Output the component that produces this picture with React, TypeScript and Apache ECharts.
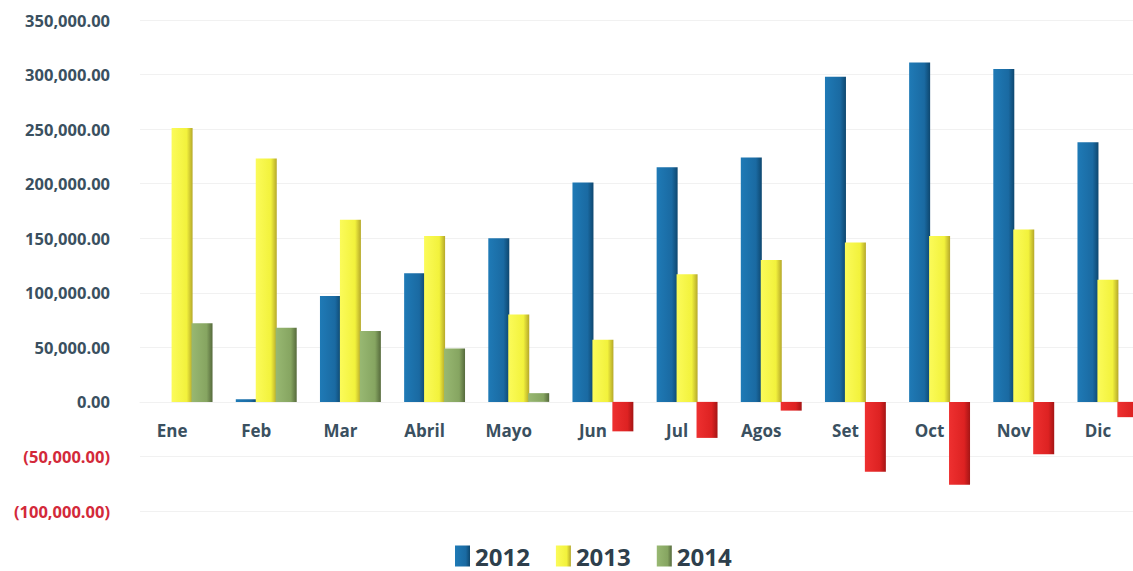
import React, { useEffect, useRef } from "react";
import * as echarts from "echarts";

const categories = ["Ene", "Feb", "Mar", "Abril", "Mayo", "Jun", "Jul", "Agos", "Set", "Oct", "Nov", "Dic"];
const series2012 = [0, 2500, 97000, 118000, 150000, 201000, 215000, 224000, 298000, 311000, 305000, 238000];
const series2013 = [251000, 223000, 167000, 152000, 80000, 57000, 117000, 130000, 146000, 152000, 158000, 112000];
const series2014 = [72000, 68000, 65000, 49000, 8000, -27000, -33000, -8000, -64000, -76000, -48000, -14000];
const yTicks = { min: -100000, max: 350000, interval: 50000 };
const seriesNames = ["2012", "2013", "2014"];

function grad(c1: string, c2: string, c3: string) {
  return new echarts.graphic.LinearGradient(0, 0, 1, 0, [
    { offset: 0, color: c1 },
    { offset: 0.72, color: c2 },
    { offset: 1, color: c3 },
  ]);
}

function fmt(v: number) {
  return Math.abs(v).toLocaleString("en-US", { minimumFractionDigits: 2, maximumFractionDigits: 2 });
}

const GRID_TOP = 20;
const GRID_BOTTOM = 60;
const CHART_H = 571;

export default function App() {
  const ref = useRef<HTMLDivElement>(null);
  useEffect(() => {
    if (!ref.current) return;
    const chart = echarts.init(ref.current, undefined, { renderer: "svg" });
    const blue = grad("#1f7ab6", "#1a6aa2", "#0e476f");
    const yellow = grad("#fbfb5a", "#f2f23c", "#b5a82a");
    const green = grad("#98b872", "#86a561", "#566a3c");
    const red = grad("#ee3030", "#dd2222", "#a51515");
    const gridH = CHART_H - GRID_TOP - GRID_BOTTOM;
    const zeroFromBottom = (gridH * (0 - yTicks.min)) / (yTicks.max - yTicks.min);
    chart.setOption({
      animation: false,
      textStyle: { fontFamily: "Open Sans" },
      grid: { left: 140, top: GRID_TOP, width: 1010, bottom: GRID_BOTTOM, outerBoundsMode: "none", containLabel: false },
      legend: {
        bottom: -2,
        left: 450,
        itemWidth: 15,
        itemHeight: 21,
        itemGap: 26,
        icon: "rect",
        textStyle: { fontSize: 24, fontWeight: "bold", color: "#2e3f4c", fontFamily: "Open Sans" },
        data: seriesNames,
      },
      xAxis: {
        type: "category",
        data: categories,
        position: "bottom",
        offset: -Math.round(zeroFromBottom),
        axisLine: { show: true, onZero: false, lineStyle: { color: "#f1f1f1" } },
        axisTick: { show: false },
        axisLabel: {
          margin: 20,
          fontSize: 17,
          fontWeight: "bold",
          color: "#3a5060",
          padding: [0, 20, 0, 0],
        },
      },
      yAxis: {
        type: "value",
        min: yTicks.min,
        max: yTicks.max,
        interval: yTicks.interval,
        axisLine: { show: false },
        axisTick: { show: false },
        splitLine: { lineStyle: { color: "#f1f1f1" } },
        axisLabel: {
          margin: 30,
          fontSize: 16.5,
          fontWeight: "bold",
          color: (v: any) => (Number(v) < 0 ? "#d3293a" : "#3a5060"),
          formatter: (v: number) => (v < 0 ? `(${fmt(v)})` : fmt(v)),
        },
      },
      series: [
        {
          name: seriesNames[0],
          type: "bar",
          barWidth: 21,
          barGap: "-5%",
          itemStyle: { color: blue },
          data: series2012,
        },
        {
          name: seriesNames[1],
          type: "bar",
          barWidth: 21,
          barGap: "-5%",
          itemStyle: { color: yellow },
          data: series2013,
        },
        {
          name: seriesNames[2],
          type: "bar",
          barWidth: 21,
          barGap: "-5%",
          itemStyle: { color: green },
          data: series2014.map((v) => (v < 0 ? { value: v, itemStyle: { color: red } } : v)),
        },
      ],
      color: ["#1a6ea8", "#f5f540", "#8fae68"],
    });
    return () => chart.dispose();
  }, []);
  return <div ref={ref} style={{ position: "fixed", left: 0, top: 0, width: 1133, height: 571, background: "#fff" }} />;
}
